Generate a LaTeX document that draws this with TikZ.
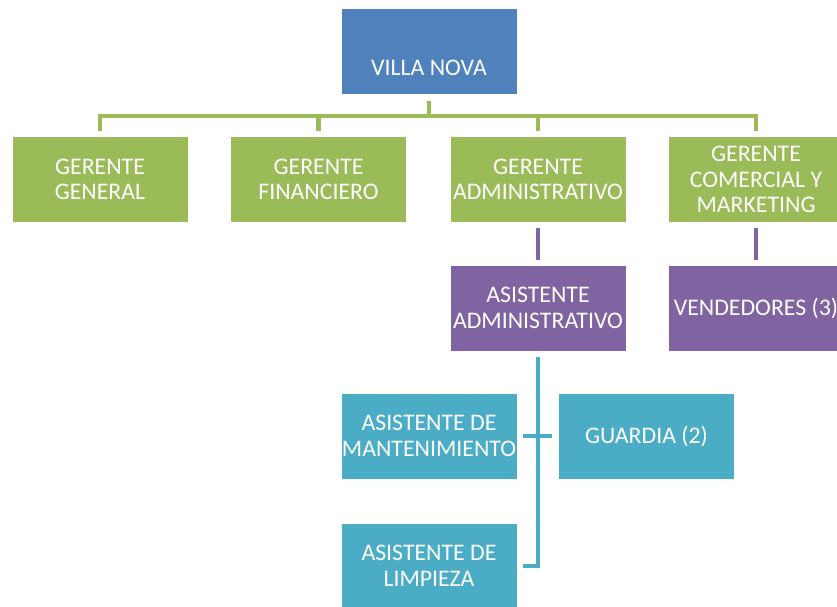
\documentclass[tikz,border=0pt]{standalone}
\usepackage{fontspec}
\setmainfont{Carlito}
\usetikzlibrary{calc}
\definecolor{boxblue}{HTML}{4F81BD}
\definecolor{boxgreen}{HTML}{9BBB59}
\definecolor{boxpurple}{HTML}{8064A2}
\definecolor{boxteal}{HTML}{4BACC6}
\tikzstyle{unit}=[rectangle, draw=white, line width=0.6pt, minimum width=176pt, minimum height=86pt, inner sep=0pt, text=white, align=center, font=\fontsize{23.8}{25.7}\selectfont]
\tikzstyle{label}=[text=white, inner sep=0pt, font=\fontsize{23.8}{25.7}\selectfont]
\tikzstyle{link}=[line width=4.5pt, line join=miter]

\begin{document}
\begin{tikzpicture}[x=1pt, y=1pt]
  \useasboundingbox (0,0) rectangle (837,-606);
  \clip (0,0) rectangle (837,-606);
  % top
  \node[unit, fill=boxblue] (villa) at (429,-51) {};
  \node[label] (villatxt) at ([yshift=-17pt]villa.center) {VILLA NOVA};
  % managers
  \node[unit, fill=boxgreen] (gg) at (100,-179.5) {GERENTE\\GENERAL};
  \node[unit, fill=boxgreen] (gf) at (318.5,-179.5) {GERENTE\\FINANCIERO};
  \node[unit, fill=boxgreen] (ga) at (538,-179.5) {GERENTE\\ADMINISTRATIVO};
  \node[unit, fill=boxgreen] (gc) at (756,-179.5) {GERENTE\\COMERCIAL Y\\MARKETING};
  % assistants
  \node[unit, fill=boxpurple] (aa) at (538,-308) {ASISTENTE\\ADMINISTRATIVO};
  \node[unit, fill=boxpurple] (ven) at (756,-308) {VENDEDORES (3)};
  % staff
  \node[unit, fill=boxteal] (am) at (429,-436) {ASISTENTE DE\\MANTENIMIENTO};
  \node[unit, fill=boxteal] (gu) at (646.5,-436) {GUARDIA (2)};
  \node[unit, fill=boxteal] (al) at (429,-566) {ASISTENTE DE\\LIMPIEZA};
  \coordinate (bus) at (0,-116);
  % green links
  \draw[link, boxgreen] ([yshift=5pt]gg.north) -- (gg.north |- bus)
    -- (gc.north |- bus) -- ([yshift=5pt]gc.north);
  \draw[link, boxgreen] ([yshift=-7pt]villa.south) -- (villa.south |- bus);
  \foreach \n in {gf,ga}
    \draw[link, boxgreen] (\n.north |- bus) -- ([yshift=5pt]\n.north);
  % purple links
  \draw[link, boxpurple] ([yshift=-5pt]ga.south) -- ([yshift=5pt]aa.north);
  \draw[link, boxpurple] ([yshift=-5pt]gc.south) -- ([yshift=5pt]ven.north);
  % teal links
  \draw[link, boxteal] ([yshift=-6pt]aa.south) -- (aa.south |- al.east)
    -- ([xshift=6pt]al.east);
  \draw[link, boxteal] ([xshift=6pt]am.east) -- ([xshift=-6pt]gu.west);
\end{tikzpicture}
\end{document}
